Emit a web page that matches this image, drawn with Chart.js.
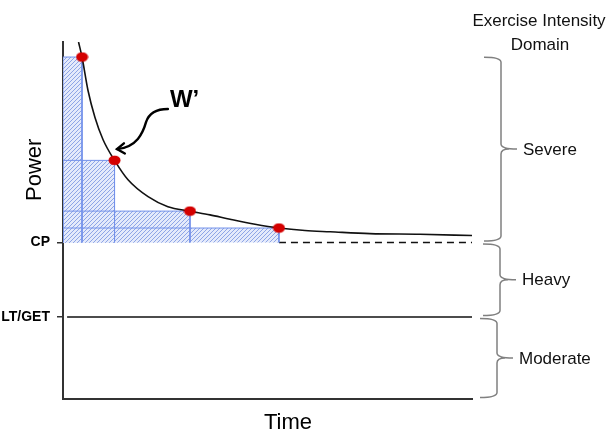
<!DOCTYPE html>
<html><head><meta charset="utf-8">
<script src="https://cdn.jsdelivr.net/npm/chart.js@4.4.1/dist/chart.umd.min.js"></script>
<style>html,body{margin:0;padding:0;background:#fff;}canvas{display:block;}</style>
</head><body>
<canvas id="c" width="614" height="440"></canvas>
<script>
// ---- data (time in min, power in W) ----
const curveTime  = [0.76,0.93,1.22,1.56,1.96,2.52,3.18,4.16,5.13,6.21,7.19,8.17,9.39,10.56,11.83,13.06,15.01,17.46,20];
const curvePower = [570,546,493,450,414,381,350,323,307,300,294,287,279,273,269,267,264,263,261];
const trialTime  = [0.93,2.52,6.21,10.56];
const trialPower = [546,381,300,273];
const criticalPower = 250;
const lactateThreshold = 131;
const yTickValues = [131, 250];
const yTickLabels = ['LT/GET', 'CP'];
const domainNames = ['Severe', 'Heavy', 'Moderate'];
const domainBounds = [548, 250, 131, 0];
const headingLines = ['Exercise Intensity', 'Domain'];
const xTitle = 'Time';
const yTitle = 'Power';
const wLabel = 'W\u2019';

const FONT = '"Liberation Sans", Arial, sans-serif';
Chart.defaults.font.family = FONT;

const canvas = document.getElementById('c');
const ctx0 = canvas.getContext('2d');

// hatch pattern
const tile = document.createElement('canvas');
tile.width = 4; tile.height = 4;
const tg = tile.getContext('2d');
tg.fillStyle = '#e4eafb'; tg.fillRect(0,0,4,4);
tg.strokeStyle = '#8ea5e6'; tg.lineWidth = 1;
tg.beginPath();
tg.moveTo(0,4); tg.lineTo(4,0);
tg.moveTo(-1,1); tg.lineTo(1,-1);
tg.moveTo(3,5); tg.lineTo(5,3);
tg.stroke();
const hatch = ctx0.createPattern(tile, 'repeat');

// elliptical red dot
const dot = document.createElement('canvas');
dot.width = 13; dot.height = 11;
const dg = dot.getContext('2d');
dg.fillStyle = '#d40000';
dg.beginPath(); dg.ellipse(6.5,5.5,6,4.8,0,0,Math.PI*2); dg.fill();

const datasets = [];
datasets.push({
  label:'trials', data: trialTime.map((t,i)=>({x:t,y:trialPower[i]})),
  showLine:false, pointStyle: dot, pointRadius:5, order:0
});
datasets.push({
  label:'curve', data: curveTime.map((t,i)=>({x:t,y:curvePower[i]})),
  showLine:true, borderColor:'#111', borderWidth:1.6, pointRadius:0,
  cubicInterpolationMode:'monotone', order:1
});
trialTime.forEach((t,i)=>{
  datasets.push({
    label:'rect'+i,
    data:[{x:0,y:criticalPower},{x:0,y:trialPower[i]},{x:t,y:trialPower[i]},{x:t,y:criticalPower}],
    showLine:true, fill:{value:criticalPower}, backgroundColor:hatch,
    borderColor:'#7391ea', borderWidth:1, pointRadius:0, tension:0, order:2+i
  });
});
datasets.push({
  label:'CP', data:[{x:trialTime[trialTime.length-1],y:criticalPower},{x:20,y:criticalPower}],
  showLine:true, borderColor:'#111', borderWidth:1.5, borderDash:[7,5], pointRadius:0, order:10
});
datasets.push({
  label:'LT', data:[{x:0.2,y:lactateThreshold},{x:20,y:lactateThreshold}],
  showLine:true, borderColor:'#111', borderWidth:1.5, pointRadius:0, order:11
});

// annotation (W' arrow) in data coordinates
const arrowPath = [[5.13,463],[4.65,463],[4.21,457],[4.06,442],[3.91,425],[3.62,402],[2.64,399]];
const wLabelPos = [5.23,466];

const overlay = {
  id:'overlay',
  afterDraw(chart){
    const {ctx, chartArea:a, scales:{x,y}} = chart;
    ctx.save();
    ctx.fillStyle = '#000';
    // axis titles
    ctx.font = '22px ' + FONT;
    ctx.textAlign = 'center'; ctx.textBaseline = 'middle';
    ctx.fillText(xTitle, x.getPixelForValue(11), a.bottom + 24);
    ctx.save();
    ctx.translate(a.left - 28, y.getPixelForValue(366));
    ctx.rotate(-Math.PI/2);
    ctx.fillText(yTitle, 0, 0);
    ctx.restore();
    // heading
    ctx.font = '17px ' + FONT;
    ctx.fillStyle = '#111';
    ctx.fillText(headingLines[0], a.right + 67, 21);
    ctx.fillText(headingLines[1], a.right + 68, 45);
    // braces
    const shifts = [0, -1, -4];
    ctx.strokeStyle = '#808080'; ctx.lineWidth = 1.5;
    for (let i=0;i<domainNames.length;i++){
      const y0 = y.getPixelForValue(domainBounds[i]) + 1.5;
      const y1 = y.getPixelForValue(domainBounds[i+1]) - 1.5;
      const ym = (y0+y1)/2;
      const xv = a.right + 29 + shifts[i];
      const xl = xv - 17, xt = xv + 16, r = 5;
      ctx.beginPath();
      ctx.moveTo(xl, y0);
      ctx.quadraticCurveTo(xv, y0, xv, y0 + r);
      ctx.lineTo(xv, ym - r);
      ctx.quadraticCurveTo(xv, ym, xt, ym);
      ctx.moveTo(xv + 8, ym);
      ctx.quadraticCurveTo(xv, ym, xv, ym + r);
      ctx.lineTo(xv, y1 - r);
      ctx.quadraticCurveTo(xv, y1, xl, y1);
      ctx.stroke();
      ctx.textAlign = 'left';
      ctx.fillStyle = '#111';
      ctx.fillText(domainNames[i], xt + 6, ym + 1);
    }
    // W' label
    ctx.fillStyle = '#000';
    ctx.font = 'bold 24px ' + FONT;
    ctx.textAlign = 'left'; ctx.textBaseline = 'alphabetic';
    ctx.fillText(wLabel, x.getPixelForValue(wLabelPos[0]), y.getPixelForValue(wLabelPos[1]));
    // arrow
    const P = arrowPath.map(p=>[x.getPixelForValue(p[0]), y.getPixelForValue(p[1])]);
    ctx.strokeStyle = '#000'; ctx.lineWidth = 2.4; ctx.lineCap = 'round';
    ctx.beginPath();
    ctx.moveTo(P[0][0],P[0][1]);
    ctx.bezierCurveTo(P[1][0],P[1][1],P[2][0],P[2][1],P[3][0],P[3][1]);
    ctx.bezierCurveTo(P[4][0],P[4][1],P[5][0],P[5][1],P[6][0],P[6][1]);
    ctx.stroke();
    const tip = P[6], back = P[5];
    const ang = Math.atan2(tip[1]-back[1], tip[0]-back[0]);
    const L = 9, spread = 0.6;
    ctx.beginPath();
    ctx.moveTo(tip[0] - L*Math.cos(ang-spread), tip[1] - L*Math.sin(ang-spread));
    ctx.lineTo(tip[0], tip[1]);
    ctx.lineTo(tip[0] - L*Math.cos(ang+spread), tip[1] - L*Math.sin(ang+spread));
    ctx.stroke();
    ctx.restore();
  }
};

new Chart(canvas, {
  type:'scatter',
  data:{datasets},
  options:{
    responsive:false, animation:false,
    layout:{padding:{top:42,right:142,bottom:0,left:0}},
    plugins:{legend:{display:false}, tooltip:{enabled:false},
      filler:{drawTime:'beforeDatasetsDraw'}},
    scales:{
      x:{type:'linear', min:0, max:20,
        grid:{display:false}, ticks:{display:false},
        border:{display:true, color:'#333', width:2},
        afterFit(s){ s.height = 41; }},
      y:{type:'linear', min:0, max:570,
        grid:{display:true, drawOnChartArea:false, drawTicks:true, tickLength:6, color:'#333', lineWidth:1.5},
        border:{display:true, color:'#333', width:2},
        afterBuildTicks(s){ s.ticks = yTickValues.map(v=>({value:v})); },
        ticks:{autoSkip:false, padding:7, color:'#000', font:{size:14, weight:'bold'},
          callback:(v)=> yTickLabels[yTickValues.indexOf(v)]},
        afterFit(s){ s.width = 63; }}
    }
  },
  plugins:[overlay]
});
</script>
</body></html>
